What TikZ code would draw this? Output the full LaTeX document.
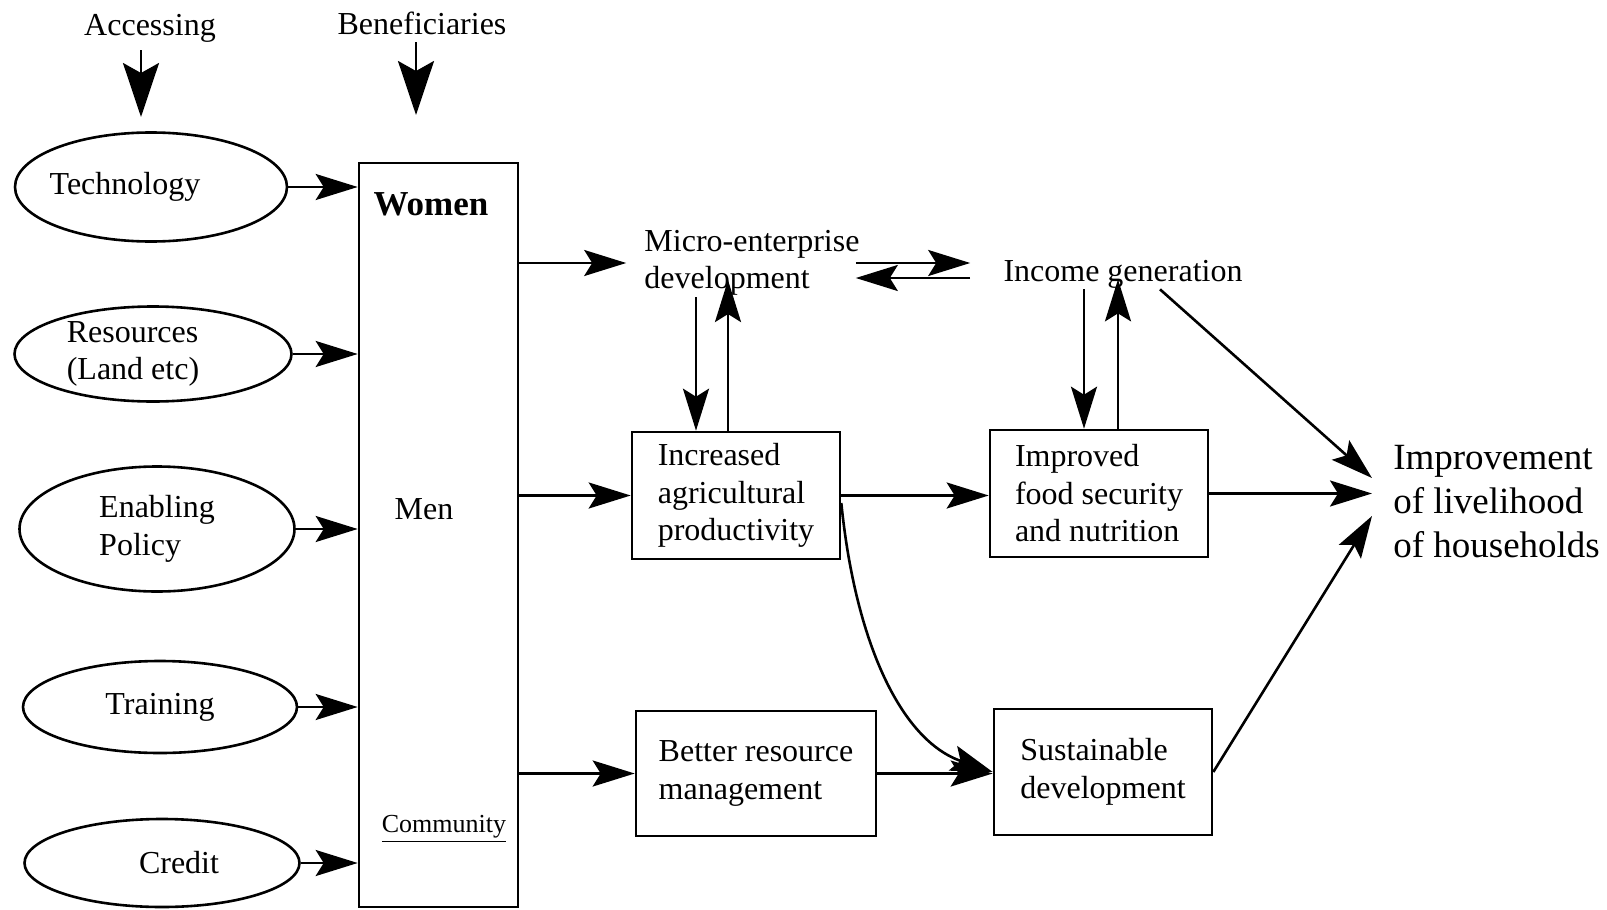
\documentclass[tikz,border=0pt]{standalone}
\usepackage{fontspec}
\setmainfont{Liberation Serif}
\usetikzlibrary{shapes,arrows.meta,positioning,calc}

\begin{document}
\begin{tikzpicture}[x=0.5pt, y=-0.5pt, line width=1.3pt,
    >={Stealth[length=21pt, width=13pt, inset=4pt]},
    font=\fontsize{16pt}{18.75pt}\selectfont,
    oval/.style={draw, ellipse, inner sep=0pt, align=left},
    box/.style={draw, rectangle, align=left, inner sep=0pt},
    txt/.style={align=left, inner sep=0pt},
    bigarrow/.style={-{Stealth[length=27pt, width=18pt, inset=5pt]}}]
    \useasboundingbox (0,0) rectangle (1607,910);

    % headings
    \node (acc) at (150,28) {Accessing};
    \node (bnf) at (422,23) {Beneficiaries};
    \coordinate (accend) at (141,117);
    \coordinate (bnfend) at (416,115);

    % what is accessed
    \node [oval, inner xsep=-8pt, minimum width=136pt, minimum height=54.5pt] (tech) at (151,187) {Technology\hspace*{26pt}};
    \node [oval, minimum width=138.5pt, minimum height=47.5pt] (res) at (153,354) {Resources\\(Land etc)\hspace*{20pt}};
    \node [oval, minimum width=137.5pt, minimum height=62.5pt] (pol) at (157,529) {Enabling\\Policy};
    \node [oval, minimum width=137pt, minimum height=46pt] (trn) at (160,707) {Training};
    \node [oval, minimum width=137.5pt, minimum height=44pt] (crd) at (162,863) {\hspace*{17pt}Credit};

    % beneficiaries
    \node [draw, rectangle, minimum width=79.5pt, minimum height=372pt] (ben) at (438.5,535) {};
    \node (women) at (431,204) {\fontsize{17.5pt}{20pt}\selectfont\bfseries Women};
    \node (men) at (424,509) {Men};
    \node (comm) at (444,829) {\fontsize{13pt}{15pt}\selectfont\underline{Community}};

    % outcomes
    \node [txt] (micro) at (752,263) {Micro-enterprise\\development};
    \node [txt, inner xsep=16pt] (inc) at (1123,274) {Income generation};
    \node [box, minimum width=104pt, minimum height=63.5pt] (agri) at (736,495.5) {Increased\\agricultural\\productivity};
    \node [box, minimum width=109pt, minimum height=63.5pt] (food) at (1099,493.5) {Improved\\food security\\and nutrition};
    \node [box, minimum width=120pt, minimum height=62.5pt] (mgmt) at (756,773.5) {Better resource\\management};
    \node [box, minimum width=109pt, minimum height=63pt] (sus) at (1103,772) {Sustainable\\development};
    \node [txt, anchor=west, inner xsep=10pt, font=\fontsize{18.5pt}{22pt}\selectfont] (imp) at (1372,502) {Improvement\\of livelihood\\of households};

    \coordinate (agridn) at ([xshift=-20pt]agri.north);
    \coordinate (agriup) at ([xshift=-4pt]agri.north);
    \coordinate (fooddn) at ([xshift=-7.5pt]food.north);
    \coordinate (foodup) at ([xshift=9.5pt]food.north);

    \draw [bigarrow] (acc.south -| accend) -- (accend);
    \draw [bigarrow] (bnf.south -| bnfend) -- (bnfend);

    \draw [->] (tech.east) -- (tech.east -| ben.west);
    \draw [->] (res.east) -- (res.east -| ben.west);
    \draw [->] (pol.east) -- (pol.east -| ben.west);
    \draw [->] (trn.east) -- (trn.east -| ben.west);
    \draw [->] (crd.east) -- (crd.east -| ben.west);

    \draw [->] (micro.west -| ben.east) -- ([xshift=-8.5pt]micro.west);
    \draw [->] (agri.west -| ben.east) -- (agri.west);
    \draw [->] (mgmt.west -| ben.east) -- (mgmt.west);

    \draw [->] ([xshift=-2.5pt]micro.east) -- ([yshift=5.5pt]inc.west);
    \draw [->] ([yshift=-2pt]inc.west) -- ([xshift=-2.5pt, yshift=-7.5pt]micro.east);

    \draw [->] (agridn |- micro.south) -- (agridn);
    \draw [->] (agriup) -- ($(agriup |- micro.south)+(0,8.5pt)$);
    \draw [->] (fooddn |- inc.south) -- (fooddn);
    \draw [->] (foodup) -- ($(foodup |- inc.south)+(0,5pt)$);

    \draw [->] (agri.east) -- (agri.east -| food.west);
    \draw [->] (food.east) -- (food.east -| imp.west);
    \draw [->] (mgmt.east) -- (mgmt.east -| sus.west);
    \draw [->] ([yshift=-3.75pt]agri.east) .. controls (855,640) and (900,740) .. (sus.west);
    \draw [->] ([xshift=18.5pt]inc.south) -- ([yshift=12pt]imp.west);
    \draw [->] (sus.east) -- ([yshift=-7pt]imp.west);
\end{tikzpicture}
\end{document}
